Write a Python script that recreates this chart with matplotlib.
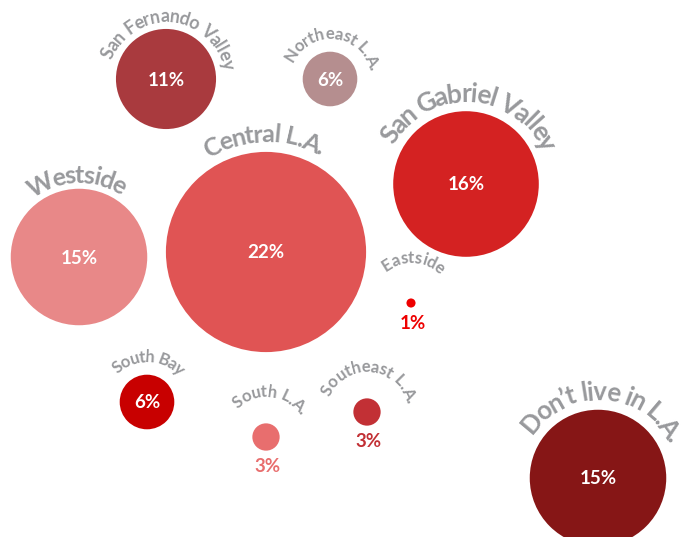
import numpy as np
import matplotlib
matplotlib.use("Agg")
import matplotlib.pyplot as plt
from matplotlib.patches import Circle
from matplotlib import font_manager
from matplotlib.ft2font import FT2Font

# data
regions = ["San Fernando Valley", "Northeast L.A.", "San Gabriel Valley", "Westside",
           "Central L.A.", "Eastside", "South Bay", "South L.A.", "Southeast L.A.",
           "Don\u2019t live in L.A."]
shares = [11, 6, 16, 15, 22, 1, 6, 3, 3, 15]
colors = ["#A93A3E", "#B58E8F", "#D42222", "#E88888", "#E05454",
          "#EE0000", "#C80000", "#E86E6E", "#C23035", "#861616"]

# layout (pixels, y down)
cx = [166, 330, 466, 79, 266, 411, 147, 266, 367, 598]
cy = [79, 79, 184, 257, 252, 303, 402, 437, 412, 478]
px_per_pct = 4.55
# curved label: baseline radius, font size (pt), angle of first / last glyph (deg from top)
lab_r = [57, 40, 82, 74, 110, 40, 40, 40, 40, 78]
lab_fs = [13, 12, 19, 18, 18, 12, 12, 12, 12, 18.5]
lab_t0 = [-66, -58, -57, -28, -27, -32, -40, -39, -61, -50]
lab_t1 = [77, 76, 63, 29, 28, 39, 44, 55, 75, 62]

GRAY = "#98999C"
FAMILY = "Lato"
DPI = 100

fig = plt.figure(figsize=(6.85, 5.37), dpi=DPI)
ax = fig.add_axes([0, 0, 1, 1])
ax.set_xlim(0, 685)
ax.set_ylim(537, 0)
ax.axis("off")


def advances(text, fs, weight):
    fp = font_manager.FontProperties(family=FAMILY, weight=weight)
    font = FT2Font(font_manager.findfont(fp))
    font.set_size(fs, DPI)
    return [font.load_char(ord(c)).linearHoriAdvance / 65536.0 for c in text], fp


def curved_text(x0, y0, text, radius, fs, t0, t1, color, weight="bold"):
    adv, fp = advances(text, fs, weight)
    cum = np.cumsum([0] + adv[:-1])
    mids = cum + np.array(adv) / 2
    frac = (mids - mids[0]) / (mids[-1] - mids[0])
    for ch, f in zip(text, frac):
        if ch == " ":
            continue
        th = np.radians(t0 + f * (t1 - t0))
        x = x0 + radius * np.sin(th)
        y = y0 - radius * np.cos(th)
        ax.text(x, y, ch, fontproperties=fp, fontsize=fs, color=color,
                rotation=-np.degrees(th), rotation_mode="anchor",
                ha="center", va="baseline")


for i, name in enumerate(regions):
    r = shares[i] * px_per_pct
    ax.add_patch(Circle((cx[i], cy[i]), r, facecolor=colors[i], edgecolor="none"))
    curved_text(cx[i], cy[i], name, lab_r[i], lab_fs[i], lab_t0[i], lab_t1[i], GRAY)
    label = f"{shares[i]}%"
    if shares[i] >= 6:
        ax.text(cx[i], cy[i] + 1, label, color="white", fontsize=13.5, family=FAMILY,
                weight="bold", ha="center", va="center")
    else:
        ax.text(cx[i] + 2, cy[i] + r + 16, label, color=colors[i], fontsize=13.5,
                family=FAMILY, weight="bold", ha="center", va="center")

fig.savefig("out.png", dpi=DPI)
